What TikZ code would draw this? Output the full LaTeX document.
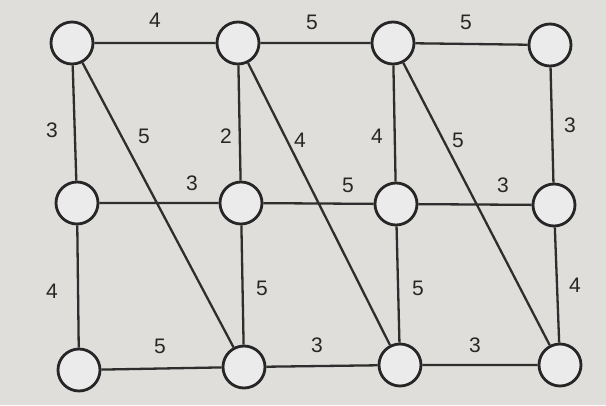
\documentclass[tikz,border=0pt]{standalone}
\usepackage{fontspec}
\setmainfont{Liberation Sans}
\begin{document}
\begin{tikzpicture}[x=1pt,y=-1pt,
  vert/.style={circle,draw=black!85,line width=2.8pt,fill=white!92!black,minimum size=42pt,inner sep=0pt},
  edge/.style={draw=black!82,line width=2.3pt},
  lab/.style={font=\fontsize{21}{21}\selectfont,text=black!85}]
\definecolor{bgc}{HTML}{DFDEDB}
\fill[bgc] (0,0) rectangle (606,405);
\useasboundingbox (0,0) rectangle (606,405);
\node[vert] (a1) at (72,43) {};
\node[vert] (a2) at (238,43) {};
\node[vert] (a3) at (393,43) {};
\node[vert] (a4) at (550,45) {};
\node[vert] (b1) at (77,203) {};
\node[vert] (b2) at (241,203) {};
\node[vert] (b3) at (396,204) {};
\node[vert] (b4) at (554,205) {};
\node[vert] (c1) at (79,370) {};
\node[vert] (c2) at (244,367) {};
\node[vert] (c3) at (400,365) {};
\node[vert] (c4) at (560,365) {};
\path[edge] (a1)--(a2) (a2)--(a3) (a3)--(a4)
  (b1)--(b2) (b2)--(b3) (b3)--(b4)
  (c1)--(c2) (c2)--(c3) (c3)--(c4)
  (a1)--(b1) (b1)--(c1) (a2)--(b2) (b2)--(c2)
  (a3)--(b3) (b3)--(c3) (a4)--(b4) (b4)--(c4)
  (a1)--(c2) (a2)--(c3) (a3)--(c4);
\node[lab] (l1) at (155,20) {4};
\node[lab] (l2) at (312,22) {5};
\node[lab] (l3) at (466,22) {5};
\node[lab] (l4) at (52,130) {3};
\node[lab] (l5) at (144,136) {5};
\node[lab] (l6) at (226,136) {2};
\node[lab] (l7) at (300,140) {4};
\node[lab] (l8) at (377,136) {4};
\node[lab] (l9) at (458,140) {5};
\node[lab] (l10) at (570,125) {3};
\node[lab] (l11) at (192,183) {3};
\node[lab] (l12) at (348,185) {5};
\node[lab] (l13) at (503,185) {3};
\node[lab] (l14) at (52,291) {4};
\node[lab] (l15) at (262,288) {5};
\node[lab] (l16) at (418,288) {5};
\node[lab] (l17) at (575,285) {4};
\node[lab] (l18) at (160,346) {5};
\node[lab] (l19) at (317,345) {3};
\node[lab] (l20) at (475,345) {3};
\end{tikzpicture}
\end{document}
